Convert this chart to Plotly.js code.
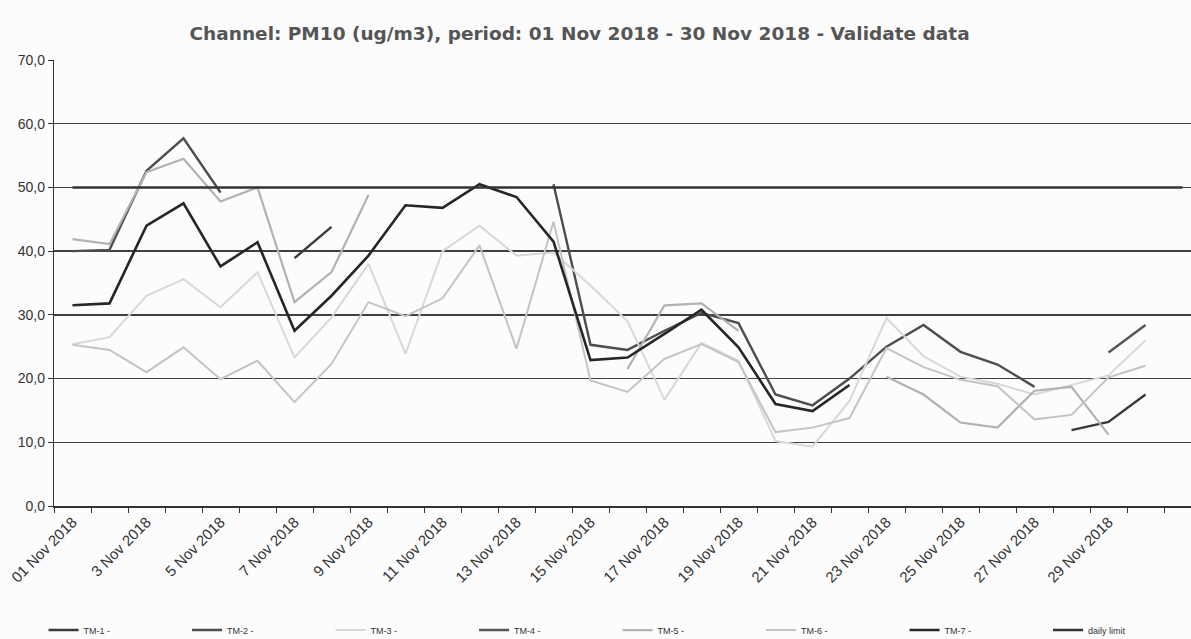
<!DOCTYPE html>
<html>
<head>
<meta charset="utf-8">
<script src="https://cdn.plot.ly/plotly-3.0.1.min.js"></script>
<style>
  html, body { margin: 0; padding: 0; overflow: hidden; background: #fcfcfc; }
  #chart { width: 1210px; height: 639px; }
</style>
</head>
<body>
<div id="chart"></div>
<script>
// categories (one per day, the last one is an empty slot like in the Excel sheet)
const dates = [
  "01 Nov 2018", "2 Nov 2018", "3 Nov 2018", "4 Nov 2018", "5 Nov 2018",
  "6 Nov 2018", "7 Nov 2018", "8 Nov 2018", "9 Nov 2018", "10 Nov 2018",
  "11 Nov 2018", "12 Nov 2018", "13 Nov 2018", "14 Nov 2018", "15 Nov 2018",
  "16 Nov 2018", "17 Nov 2018", "18 Nov 2018", "19 Nov 2018", "20 Nov 2018",
  "21 Nov 2018", "22 Nov 2018", "23 Nov 2018", "24 Nov 2018", "25 Nov 2018",
  "26 Nov 2018", "27 Nov 2018", "28 Nov 2018", "29 Nov 2018", "30 Nov 2018", ""
];
const n = null;

// PM10 daily values, ug/m3 (null = no valid data)
const tm1 = [n, n, n, n, n, n, 38.9, 43.8, n, n, n, n, n, n, n, n, n, n, n, n, n, n, n, n, n, n, n, 11.9, 13.2, 17.5, n];
const tm2 = [40.0, 40.2, 52.6, 57.7, 49.2, n, n, n, n, n, n, n, n, 50.5, 25.3, 24.5, 27.5, 30.3, 28.7, 17.5, 15.8, 20.0, 25.0, 28.4, 24.2, 22.2, 18.7, n, n, n, n];
const tm3 = [25.4, 26.5, 33.0, 35.6, 31.2, 36.7, 23.3, 29.6, 38.0, 23.9, 40.0, 44.0, 39.3, 39.8, 34.6, 29.0, 16.7, 25.6, 22.8, 10.2, 9.3, 16.5, 29.5, 23.5, 20.3, 19.2, 17.5, 19.0, 20.5, 26.0, n];
const tm4 = [n, n, n, n, n, n, n, n, n, n, n, n, n, n, n, n, n, n, n, n, n, n, n, n, n, n, n, n, 24.1, 28.4, n];
const tm5 = [41.9, 41.1, 52.4, 54.5, 47.8, 50.0, 32.0, 36.7, 48.8, n, n, n, n, n, n, 21.5, 31.5, 31.8, 27.5, n, n, n, 20.3, 17.5, 13.1, 12.3, 18.1, 18.7, 11.2, n, n];
const tm6 = [25.3, 24.5, 21.0, 24.9, 19.9, 22.8, 16.3, 22.3, 32.0, 29.8, 32.6, 40.9, 24.7, 44.6, 19.7, 17.9, 23.1, 25.4, 22.6, 11.6, 12.3, 13.8, 24.8, 21.8, 19.8, 18.8, 13.6, 14.3, 20.2, 22.0, n];
const tm7 = [31.5, 31.8, 44.0, 47.5, 37.6, 41.4, 27.5, 33.0, 39.3, 47.2, 46.8, 50.5, 48.5, 41.5, 22.9, 23.3, 27.0, 30.8, 24.9, 16.0, 14.9, 19.0, n, n, n, n, n, n, n, n, n];
const dailyLimit = dates.map(() => 50);

const yTicks = [0, 10, 20, 30, 40, 50, 60, 70];
const yTickText = ["0,0", "10,0", "20,0", "30,0", "40,0", "50,0", "60,0", "70,0"];

const xs = dates.map((d, i) => i + 1);
const labelIdx = xs.filter(i => i % 2 === 1 && dates[i - 1] !== "" && i < 30);

const series = [
  { name: "TM-1 -", y: tm1, color: "#3a3a3a", width: 2.4 },
  { name: "TM-2 -", y: tm2, color: "#4e4e4e", width: 2.4 },
  { name: "TM-3 -", y: tm3, color: "#d8d8d8", width: 2 },
  { name: "TM-4 -", y: tm4, color: "#555555", width: 2.4 },
  { name: "TM-5 -", y: tm5, color: "#b2b2b2", width: 2.2 },
  { name: "TM-6 -", y: tm6, color: "#c4c4c4", width: 2 },
  { name: "TM-7 -", y: tm7, color: "#262626", width: 2.6 },
  { name: "daily limit", y: dailyLimit, color: "#333333", width: 2.4 }
];

const traces = series.map(s => ({
  x: xs,
  y: s.y,
  name: s.name,
  type: "scatter",
  mode: "lines",
  connectgaps: false,
  line: { color: s.color, width: s.width },
  hoverinfo: "skip"
}));

const layout = {
  width: 1210,
  height: 639,
  margin: { l: 54, r: 9, t: 60, b: 133 },
  paper_bgcolor: "#fcfcfc",
  plot_bgcolor: "#fcfcfc",
  font: { family: "Liberation Sans, Arial, sans-serif", color: "#333" },
  title: {
    text: "Channel: PM10 (ug/m3), period: 01 Nov 2018 - 30 Nov 2018 - Validate data",
    font: { family: "DejaVu Sans, Verdana, sans-serif", size: 18.5, color: "#555", weight: "bold" },
    xref: "container", x: 0.479, xanchor: "center",
    yref: "container", y: 0.948, yanchor: "middle"
  },
  xaxis: {
    range: [0.5, 31.5],
    tickvals: labelIdx,
    ticktext: labelIdx.map(i => dates[i - 1]),
    tickangle: -45,
    ticks: "",
    tickfont: { size: 15, color: "#333" },
    showgrid: false,
    zeroline: false,
    showline: true,
    linecolor: "#333",
    linewidth: 1.5,
    minor: { tick0: 0.5, dtick: 1, ticks: "outside", ticklen: 5, tickcolor: "#333", showgrid: false }
  },
  yaxis: {
    range: [0, 70],
    tickvals: yTicks,
    ticktext: yTickText,
    ticks: "outside",
    ticklen: 5,
    tickcolor: "#333",
    tickfont: { size: 14, color: "#333" },
    showgrid: true,
    gridcolor: "#404040",
    gridwidth: 1.3,
    zeroline: false,
    showline: true,
    linecolor: "#333",
    linewidth: 1.2
  },
  showlegend: true,
  legend: {
    orientation: "h",
    xref: "container", x: 0.036, xanchor: "left",
    yref: "container", y: 0.014, yanchor: "middle",
    entrywidth: 98.5, entrywidthmode: "pixels",
    font: { size: 9, color: "#333" },
    bgcolor: "rgba(0,0,0,0)",
    itemclick: false
  }
};

Plotly.newPlot("chart", traces, layout, { displayModeBar: false, staticPlot: true });
</script>
</body>
</html>
